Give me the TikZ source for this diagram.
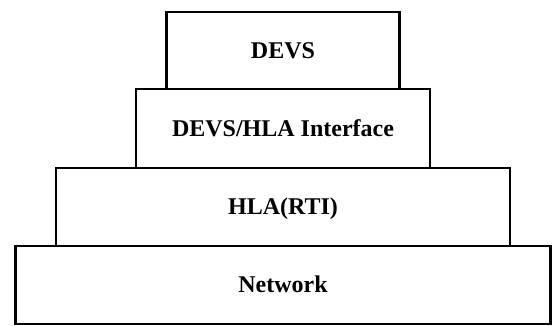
\documentclass[tikz,border=0pt]{standalone}
\usepackage{fontspec}
\setmainfont{Liberation Serif}
\usetikzlibrary{positioning}

\begin{document}
\begin{tikzpicture}[x=1pt, y=1pt,
    layer/.style={draw=black, line width=2.8pt, outer sep=0pt, inner sep=0pt,
        minimum height=78pt, text height=16pt, text depth=0pt,
        font=\fontsize{24}{28}\selectfont\bfseries}]
    \useasboundingbox (0,0) rectangle (552,326);
    \node[layer, minimum width=535pt] (net) at (283,41) {Network};
    \node[layer, minimum width=454pt, above=0pt of net] (rti) {HLA(RTI)};
    \node[layer, minimum width=294pt, minimum height=79pt, above=0pt of rti] (iface) {DEVS/HLA Interface};
    \node[layer, minimum width=233pt, minimum height=77pt, above=0pt of iface] (devs) {DEVS};
\end{tikzpicture}
\end{document}
